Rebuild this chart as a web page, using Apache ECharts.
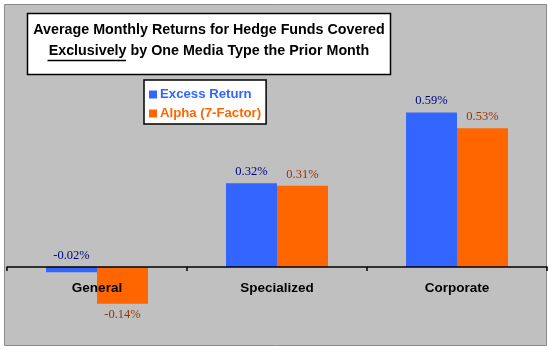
<!DOCTYPE html>
<html>
<head>
<meta charset="utf-8">
<script src="https://cdn.jsdelivr.net/npm/echarts@6/dist/echarts.min.js"></script>
<style>html,body{margin:0;padding:0;background:#fff;}#c{width:550px;height:350px;}</style>
</head>
<body>
<div id="c"></div>
<script>
var categories = ['General', 'Specialized', 'Corporate'];
var excessReturn = [-0.02, 0.32, 0.59];
var alpha7 = [-0.14, 0.31, 0.53];
var seriesNames = ['Excess Return', 'Alpha (7-Factor)'];
var titleLines = ['Average Monthly Returns for Hedge Funds Covered', 'Exclusively by One Media Type the Prior Month'];

var chart = echarts.init(document.getElementById('c'));

function mk(vals, negPos) {
  return vals.map(function (v) {
    return {
      value: v,
      label: { position: v < 0 ? negPos : 'top' }
    };
  });
}

var labelStyle = function (c) {
  return {
    show: true,
    fontFamily: 'Liberation Serif',
    fontSize: 12.5,
    color: c,
    distance: 5,
    formatter: function (p) { return p.value.toFixed(2) + '%'; }
  };
};

chart.setOption({
  animation: false,
  backgroundColor: '#ffffff',
  grid: { left: 7, right: 3, top: 5, bottom: 83, containLabel: false },
  xAxis: {
    type: 'category',
    data: categories,
    z: 10,
    axisLine: { lineStyle: { color: '#000', width: 1.5 } },
    axisTick: { show: true, length: 4, lineStyle: { color: '#000', width: 1.5 } },
    axisLabel: { margin: 14, fontFamily: 'Liberation Sans', fontWeight: 'bold', fontSize: 13.5, color: '#000' }
  },
  yAxis: {
    type: 'value',
    min: 0,
    max: 1.0,
    interval: 0.5,
    show: false,
    splitLine: { show: false }
  },
  legend: {
    orient: 'vertical',
    left: 144,
    top: 80,
    backgroundColor: '#fff',
    borderColor: '#000',
    borderWidth: 1.5,
    borderRadius: 0,
    padding: [8, 5, 4, 5],
    itemGap: 6,
    itemWidth: 8,
    itemHeight: 8,
    icon: 'rect',
    textStyle: { fontFamily: 'Liberation Sans', fontWeight: 'bold', fontSize: 13.2, padding: [0, 0, 0, -2] },
    data: [
      { name: seriesNames[0], textStyle: { color: '#3366FF' } },
      { name: seriesNames[1], textStyle: { color: '#FF6600' } }
    ]
  },
  graphic: [
    {
      type: 'rect', z: -10, silent: true,
      shape: { x: 4.5, y: 4.5, width: 542, height: 341 },
      style: { fill: '#C0C0C0', stroke: '#8a8a8a', lineWidth: 1 }
    },
    {
      type: 'rect', z: 100,
      shape: { x: 27.5, y: 13.5, width: 363, height: 61 },
      style: { fill: '#fff', stroke: '#000', lineWidth: 1.5 }
    },
    {
      type: 'text', z: 101,
      x: 209, y: 30,
      style: { text: titleLines[0], fontFamily: 'Liberation Sans', fontWeight: 'bold', fontSize: 14.3, fill: '#000', align: 'center', verticalAlign: 'middle' }
    },
    {
      type: 'text', z: 101,
      x: 209, y: 51,
      style: { text: titleLines[1], fontFamily: 'Liberation Sans', fontWeight: 'bold', fontSize: 14.3, fill: '#000', align: 'center', verticalAlign: 'middle' }
    },
    {
      type: 'line', z: 101,
      shape: { x1: 47.5, y1: 60.5, x2: 126, y2: 60.5 },
      style: { stroke: '#000', lineWidth: 1.5 }
    }
  ],
  series: [
    {
      name: seriesNames[0],
      type: 'bar',
      barWidth: 51,
      barGap: '0%',
      clip: false,
      itemStyle: { color: '#3366FF' },
      label: labelStyle('#000080'),
      data: mk(excessReturn, 'top')
    },
    {
      name: seriesNames[1],
      type: 'bar',
      barWidth: 51,
      barGap: '0%',
      clip: false,
      itemStyle: { color: '#FF6600' },
      label: labelStyle('#993300'),
      data: mk(alpha7, 'bottom')
    }
  ]
});
</script>
</body>
</html>
